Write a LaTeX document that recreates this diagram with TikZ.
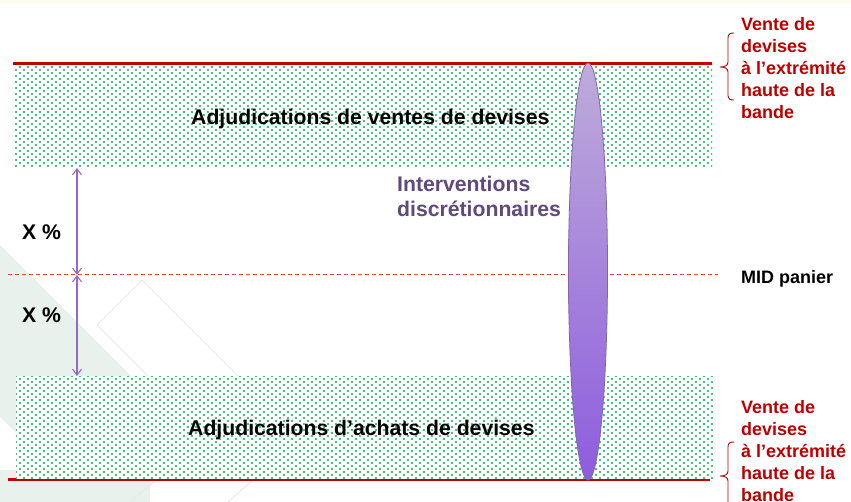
\documentclass[tikz,border=0pt]{standalone}
\usepackage{fontspec}
\setmainfont{Liberation Sans}
\usetikzlibrary{patterns,arrows.meta,shapes.geometric}
\definecolor{redline}{RGB}{192,0,0}
\definecolor{reddash}{RGB}{222,70,70}
\definecolor{redtxt}{RGB}{192,0,0}
\definecolor{purptxt}{RGB}{96,74,123}
\definecolor{arrowc}{RGB}{150,105,200}
\definecolor{ellborder}{RGB}{130,100,175}
\definecolor{elltop}{RGB}{190,172,218}
\definecolor{ellbot}{RGB}{142,92,222}
\definecolor{dotgreen}{RGB}{0,176,80}
\definecolor{wmgreen}{RGB}{232,241,236}
\definecolor{wmgray}{RGB}{234,234,234}
\definecolor{wmyellow}{RGB}{255,252,236}
\pgfdeclarepatternformonly{gdots}{\pgfqpoint{-1.3pt}{-1.3pt}}{\pgfqpoint{5.3pt}{4.3pt}}{\pgfqpoint{8pt}{6pt}}{%
  \pgfpathcircle{\pgfqpoint{0pt}{0pt}}{1.15pt}%
  \pgfpathcircle{\pgfqpoint{4pt}{3pt}}{1.15pt}%
  \pgfusepath{fill}}
\tikzset{
  band/.style={rectangle, inner sep=0pt, fill=white, postaction={pattern=gdots, pattern color=dotgreen}},
  bigtxt/.style={font=\fontsize{21.2}{25}\selectfont\bfseries, inner sep=0pt, anchor=base west},
  redlbl/.style={font=\fontsize{18}{22}\selectfont\bfseries, text=redtxt, inner sep=0pt, anchor=base west, align=left},
  midlbl/.style={font=\fontsize{18}{22}\selectfont\bfseries, inner sep=0pt, anchor=base west},
  brace/.style={draw=redline, line width=0.9pt},
  dimarrow/.style={draw=arrowc, line width=1.1pt, {Straight Barb[length=6pt,width=9pt]}-{Straight Barb[length=6pt,width=9pt]}},
  wmline/.style={draw=wmgray, line width=1pt}
}
\begin{document}
\begin{tikzpicture}[x=1pt,y=-1pt]
\useasboundingbox (0,0) rectangle (851,502);
\fill[white] (0,0) rectangle (851,502);
% faint background watermark
\fill[wmyellow] (0,0) rectangle (851,3);
\fill[wmgreen] (0,245) -- (150,395) -- (150,502) -- (0,502) -- cycle;
\fill[white] (0,417) -- (40,457) -- (40,470) -- (0,470) -- cycle;
\draw[wmline] (270,408) -- (142,280) -- (97,325) -- (252,480);
\draw[wmline] (130,502) -- (158,478);
\draw[wmline] (228,502) -- (255,478);
% bands
\node[band, minimum width=699pt, minimum height=103pt] (topband) at (362.5,116.5) {};
\node[band, minimum width=699pt, minimum height=103pt] (botband) at (365.5,427.5) {};
% red lines
\draw[draw=redline, line width=3pt] (13,63.3) -- (712,63.3);
\draw[draw=redline, line width=1.5pt] (8,480) -- (710,480);
\fill[redline] (8,477.5) rectangle (16,481);
% dashed mid line
\coordinate (midL) at (8,275);
\coordinate (midR) at (718,275);
\draw[draw=reddash, line width=1pt, dash pattern=on 4pt off 3pt] (midL) -- (midR);
% dimension arrows
\coordinate (atop) at (77,168);
\coordinate (amid) at (77,275);
\coordinate (abot) at (77,376);
\draw[dimarrow] (atop) -- (amid);
\draw[dimarrow] (amid) -- (abot);
% ellipse
\node[ellipse, minimum width=39pt, minimum height=417pt, inner sep=0pt, draw=ellborder, line width=0.8pt, top color=elltop, bottom color=ellbot] (ell) at (588,271.5) {};
% texts
\node[bigtxt] (tventes) at (191,125) {Adjudications de ventes de devises};
\node[bigtxt] (tachats) at (188,435) {Adjudications d’achats de devises};
\node[bigtxt] (x1) at (22,240) {X \%};
\node[bigtxt] (x2) at (22,323) {X \%};
\node[bigtxt, text=purptxt, align=left] (interv) at (397,217) {Interventions\\discrétionnaires};
\node[midlbl] (mid) at (741,284) {MID panier};
\node[redlbl] (rtop) at (741,119) {Vente de\\devises\\à l’extrémité\\haute de la\\bande};
\node[redlbl] (rbot) at (741,501) {Vente de\\devises\\à l’extrémité\\haute de la\\bande};
% braces
\draw[brace] (734,33) .. controls (730,33) and (728,34) .. (728,38) -- (728,62) .. controls (728,65.5) and (725,67) .. (720,67) .. controls (725,67) and (728,68.5) .. (728,72) -- (728,96) .. controls (728,99) and (730,100) .. (734,100);
\draw[brace] (734,442) .. controls (730,442) and (728,443) .. (728,447) -- (728,471) .. controls (728,474.5) and (725,476) .. (720,476) .. controls (725,476) and (728,477.5) .. (728,481) -- (728,505) .. controls (728,508) and (730,510) .. (734,510);
\end{tikzpicture}
\end{document}
